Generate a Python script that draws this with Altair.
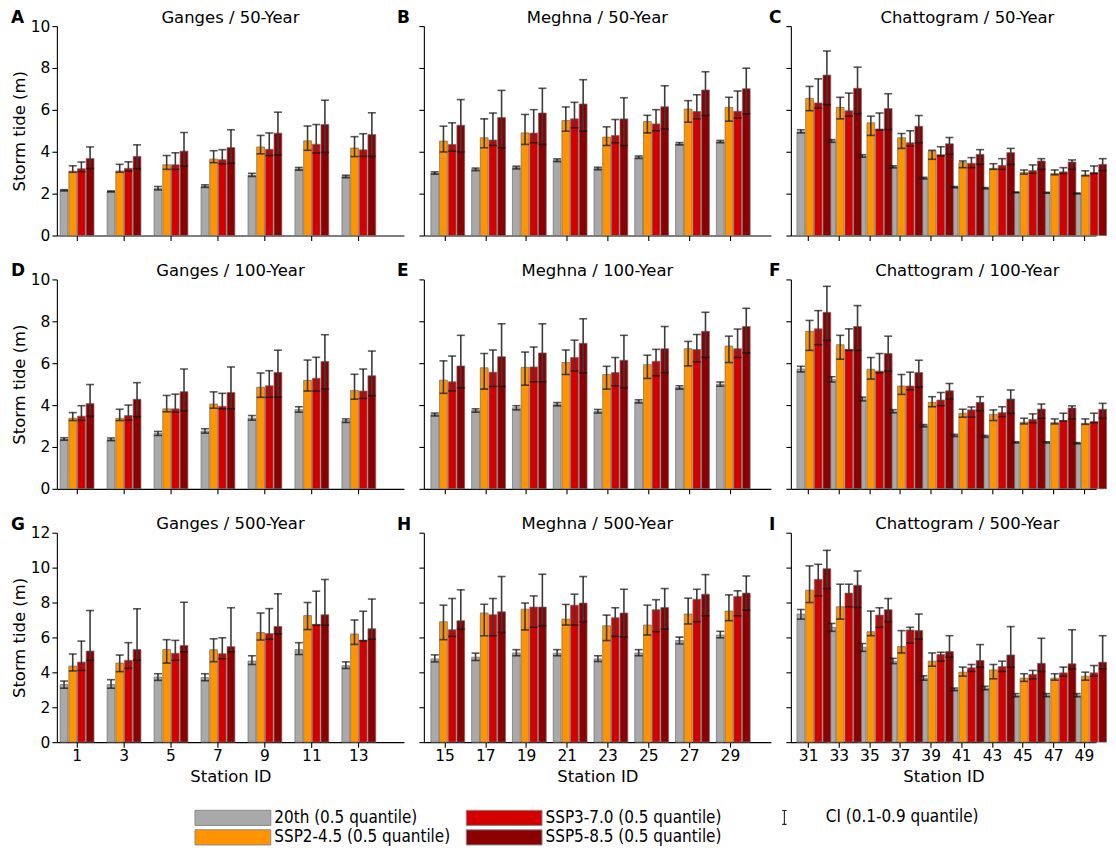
import altair as alt
import pandas as pd

SCENARIOS = ["20th (0.5 quantile)", "SSP2-4.5 (0.5 quantile)",
             "SSP3-7.0 (0.5 quantile)", "SSP5-8.5 (0.5 quantile)"]
COLORS = ["#a9a9a9", "#ff9300", "#d40000", "#8b0000"]
CI_LABEL = "CI (0.1-0.9 quantile)"

GANGES_ST = [1, 3, 5, 7, 9, 11, 13]
MEGHNA_ST = [15, 17, 19, 21, 23, 25, 27, 29]
CHATTO_ST = [31, 33, 35, 37, 39, 41, 43, 45, 47, 49]

# ---- Ganges / 50-Year  (rows: 20th, SSP2-4.5, SSP3-7.0, SSP5-8.5)
G50_MED = [[2.16, 2.10, 2.24, 2.35, 2.88, 3.18, 2.82],
           [3.07, 3.08, 3.38, 3.65, 4.23, 4.52, 4.18],
           [3.19, 3.21, 3.38, 3.62, 4.12, 4.36, 4.09],
           [3.68, 3.78, 4.03, 4.20, 4.89, 5.30, 4.82]]
G50_LO = [[2.13, 2.08, 2.18, 2.30, 2.82, 3.12, 2.76],
          [3.02, 3.02, 3.16, 3.48, 3.90, 4.07, 3.77],
          [3.05, 3.08, 3.16, 3.42, 3.82, 3.94, 3.78],
          [3.20, 3.19, 3.32, 3.45, 3.85, 3.97, 3.78]]
G50_HI = [[2.19, 2.13, 2.34, 2.42, 2.97, 3.25, 2.88],
          [3.33, 3.40, 3.82, 4.05, 4.78, 5.23, 4.72],
          [3.51, 3.52, 3.95, 4.10, 4.90, 5.30, 4.86],
          [4.23, 4.33, 4.92, 5.05, 5.89, 6.46, 5.86]]

# ---- Meghna / 50-Year
M50_MED = [[2.98, 3.16, 3.25, 3.60, 3.20, 3.74, 4.38, 4.48],
           [4.51, 4.67, 4.90, 5.49, 4.70, 5.44, 6.04, 6.12],
           [4.35, 4.56, 4.89, 5.57, 4.78, 5.33, 5.92, 5.93],
           [5.27, 5.63, 5.85, 6.28, 5.57, 6.15, 6.95, 7.01]]
M50_LO = [[2.93, 3.10, 3.18, 3.53, 3.14, 3.68, 4.33, 4.43],
          [3.99, 4.19, 4.35, 4.98, 4.30, 4.90, 5.41, 5.46],
          [4.03, 4.30, 4.43, 5.14, 4.43, 5.00, 5.57, 5.62],
          [3.99, 4.19, 4.35, 4.98, 4.30, 5.09, 5.73, 5.81]]
M50_HI = [[3.04, 3.22, 3.31, 3.66, 3.26, 3.80, 4.44, 4.54],
          [5.22, 5.57, 5.78, 6.14, 5.19, 5.74, 6.44, 6.60],
          [5.38, 5.85, 6.01, 6.36, 5.54, 6.01, 6.72, 6.90],
          [6.49, 6.93, 7.03, 7.44, 6.58, 7.15, 7.82, 7.99]]

# ---- Chattogram / 50-Year
C50_MED = [[4.95, 4.52, 3.80, 3.28, 2.74, 2.31, 2.26, 2.06, 2.04, 2.01],
           [6.55, 6.12, 5.38, 4.67, 4.02, 3.48, 3.21, 3.01, 2.96, 2.90],
           [6.33, 5.96, 5.09, 4.43, 3.86, 3.45, 3.35, 3.10, 3.04, 3.01],
           [7.66, 7.03, 6.06, 5.22, 4.38, 3.88, 3.96, 3.56, 3.51, 3.40]]
C50_LO = [[4.90, 4.45, 3.74, 3.23, 2.70, 2.28, 2.23, 2.04, 2.02, 1.99],
          [5.96, 5.57, 4.78, 4.16, 3.64, 3.24, 3.16, 2.93, 2.90, 2.85],
          [6.08, 5.70, 5.03, 4.27, 3.80, 3.24, 3.16, 2.97, 2.96, 2.96],
          [6.25, 5.82, 5.06, 4.43, 3.88, 3.40, 3.40, 3.16, 3.16, 3.10]]
C50_HI = [[5.05, 4.58, 3.86, 3.33, 2.78, 2.34, 2.29, 2.08, 2.06, 2.03],
          [7.12, 6.60, 5.70, 4.87, 4.07, 3.56, 3.43, 3.13, 3.13, 3.09],
          [7.48, 6.80, 5.85, 5.00, 4.24, 3.72, 3.67, 3.37, 3.24, 3.32],
          [8.81, 8.04, 6.77, 5.73, 4.68, 4.10, 4.16, 3.67, 3.61, 3.67]]

# ---- Ganges / 100-Year
G100_MED = [[2.37, 2.35, 2.65, 2.76, 3.38, 3.78, 3.26],
            [3.37, 3.37, 3.82, 4.05, 4.85, 5.18, 4.70],
            [3.47, 3.50, 3.82, 3.94, 4.92, 5.28, 4.67],
            [4.07, 4.28, 4.64, 4.60, 5.56, 6.08, 5.40]]
G100_LO = [[2.32, 2.30, 2.55, 2.66, 3.28, 3.66, 3.17],
           [3.26, 3.26, 3.68, 3.85, 4.37, 4.67, 4.28],
           [3.27, 3.28, 3.66, 3.82, 4.37, 4.67, 4.32],
           [3.47, 3.45, 3.73, 3.82, 4.38, 4.77, 4.45]]
G100_HI = [[2.44, 2.43, 2.74, 2.87, 3.50, 3.92, 3.34],
           [3.64, 3.80, 4.46, 4.63, 5.53, 6.15, 5.47],
           [3.97, 4.00, 4.52, 4.56, 5.64, 6.28, 5.72],
           [4.98, 5.07, 5.72, 5.82, 6.62, 7.36, 6.58]]

# ---- Meghna / 100-Year
M100_MED = [[3.55, 3.74, 3.87, 4.04, 3.70, 4.16, 4.84, 5.00],
            [5.19, 5.78, 5.80, 6.03, 5.46, 5.93, 6.69, 6.82],
            [5.11, 5.57, 5.82, 6.27, 5.55, 6.09, 6.65, 6.69],
            [5.87, 6.31, 6.49, 6.95, 6.14, 6.69, 7.52, 7.75]]
M100_LO = [[3.48, 3.66, 3.77, 3.96, 3.62, 4.10, 4.76, 4.90],
           [4.56, 4.76, 4.95, 5.46, 4.76, 5.27, 5.87, 6.03],
           [4.68, 4.89, 5.11, 5.63, 4.92, 5.40, 6.06, 6.27],
           [4.83, 4.89, 5.11, 5.54, 4.83, 5.55, 6.28, 6.49]]
M100_HI = [[3.62, 3.82, 3.97, 4.12, 3.79, 4.25, 4.92, 5.10],
           [6.11, 6.46, 6.53, 6.63, 5.85, 6.38, 7.04, 7.29],
           [6.34, 6.63, 6.77, 7.10, 6.27, 6.66, 7.37, 7.63],
           [7.33, 7.88, 7.88, 8.12, 7.33, 7.75, 8.43, 8.62]]

# ---- Chattogram / 100-Year
C100_MED = [[5.72, 5.22, 4.30, 3.70, 3.02, 2.55, 2.50, 2.22, 2.22, 2.18],
            [7.52, 6.88, 5.71, 4.91, 4.13, 3.61, 3.56, 3.18, 3.16, 3.13],
            [7.64, 6.66, 5.62, 4.91, 4.24, 3.77, 3.64, 3.32, 3.26, 3.21],
            [8.43, 7.75, 6.46, 5.55, 4.68, 4.13, 4.29, 3.81, 3.86, 3.80]]
C100_LO = [[5.58, 5.10, 4.20, 3.63, 2.96, 2.50, 2.46, 2.19, 2.19, 2.15],
           [6.61, 6.19, 5.24, 4.51, 3.92, 3.42, 3.26, 3.10, 3.10, 3.08],
           [6.88, 6.61, 5.55, 4.73, 3.97, 3.42, 3.45, 3.16, 3.24, 3.16],
           [7.09, 6.61, 5.62, 4.87, 4.29, 3.73, 3.61, 3.37, 3.34, 3.37]]
C100_HI = [[5.85, 5.35, 4.38, 3.78, 3.07, 2.60, 2.55, 2.25, 2.25, 2.21],
           [8.04, 7.33, 6.27, 5.46, 4.40, 3.80, 3.77, 3.37, 3.34, 3.34],
           [8.51, 7.64, 6.46, 5.57, 4.60, 3.91, 3.92, 3.58, 3.61, 3.61],
           [9.67, 8.75, 7.29, 6.14, 5.03, 4.40, 4.72, 4.05, 3.96, 4.08]]

# ---- Ganges / 500-Year
G500_MED = [[3.30, 3.30, 3.73, 3.70, 4.65, 5.30, 4.38],
            [4.36, 4.53, 5.31, 5.30, 6.28, 7.25, 6.20],
            [4.59, 4.69, 5.09, 5.07, 6.22, 6.75, 5.85],
            [5.22, 5.31, 5.54, 5.47, 6.63, 7.30, 6.50]]
G500_LO = [[3.09, 3.09, 3.54, 3.52, 4.45, 5.02, 4.22],
           [4.08, 4.04, 4.53, 4.61, 5.85, 6.45, 5.60],
           [4.11, 4.23, 4.69, 4.78, 5.90, 6.70, 5.80],
           [4.69, 4.69, 5.18, 5.18, 6.20, 6.70, 5.90]]
G500_HI = [[3.50, 3.58, 3.92, 3.92, 4.95, 5.70, 4.60],
           [5.05, 4.99, 5.87, 5.92, 7.40, 8.00, 7.00],
           [5.79, 5.70, 5.83, 5.98, 7.65, 8.65, 7.50],
           [7.54, 7.64, 8.02, 7.70, 8.50, 9.32, 8.20]]

# ---- Meghna / 500-Year
M500_MED = [[4.77, 4.87, 5.11, 5.10, 4.77, 5.11, 5.82, 6.14],
            [6.90, 7.40, 7.62, 7.05, 6.67, 6.71, 7.34, 7.51],
            [6.44, 7.30, 7.74, 7.85, 7.13, 7.59, 8.19, 8.35],
            [6.96, 7.47, 7.74, 7.97, 7.40, 7.72, 8.48, 8.54]]
M500_LO = [[4.60, 4.68, 4.95, 4.95, 4.62, 4.95, 5.62, 5.98],
           [5.87, 6.10, 6.43, 6.71, 5.82, 6.14, 6.77, 6.96],
           [6.06, 6.10, 6.58, 6.71, 6.06, 6.33, 6.90, 7.24],
           [6.48, 6.29, 6.67, 6.90, 6.03, 6.48, 7.24, 7.57]]
M500_HI = [[5.00, 5.10, 5.30, 5.30, 4.95, 5.30, 6.02, 6.35],
           [7.85, 7.90, 7.97, 7.89, 7.28, 7.85, 8.25, 8.44],
           [8.23, 8.23, 8.38, 8.48, 7.70, 8.16, 8.76, 8.67],
           [8.73, 9.49, 9.62, 9.49, 8.76, 8.80, 9.60, 9.52]]

# ---- Chattogram / 500-Year
C500_MED = [[7.34, 6.58, 5.44, 4.64, 3.67, 3.02, 3.10, 2.68, 2.68, 2.68],
            [8.71, 7.76, 6.33, 5.48, 4.64, 4.01, 4.14, 3.67, 3.67, 3.78],
            [9.33, 8.54, 7.28, 6.43, 5.02, 4.26, 4.33, 3.88, 3.97, 3.97],
            [9.94, 8.99, 7.59, 6.39, 5.19, 4.68, 5.00, 4.52, 4.49, 4.58]]
C500_LO = [[7.05, 6.35, 5.20, 4.50, 3.55, 2.95, 3.00, 2.60, 2.60, 2.60],
           [8.00, 7.05, 6.10, 5.11, 4.35, 3.78, 3.63, 3.48, 3.55, 3.55],
           [8.38, 7.76, 6.58, 5.68, 4.64, 4.05, 4.05, 3.63, 3.78, 3.78],
           [8.80, 7.72, 6.90, 5.91, 4.87, 4.30, 4.30, 4.05, 4.20, 4.20]]
C500_HI = [[7.60, 6.80, 5.65, 4.80, 3.80, 3.10, 3.20, 2.78, 2.78, 2.78],
           [10.10, 9.05, 7.51, 6.39, 5.11, 4.30, 4.45, 3.92, 3.92, 4.01],
           [10.19, 9.05, 7.70, 6.58, 5.15, 4.45, 4.64, 4.11, 4.30, 4.39],
           [10.99, 9.81, 8.23, 7.34, 6.10, 5.59, 6.62, 5.95, 6.44, 6.10]]

FONT = "DejaVu Sans"
LEGEND_FONT = "DejaVu Sans Condensed, Liberation Sans Narrow, DejaVu Sans"
PLOT_H = 210


def frame(stations, med, lo, hi):
    rows = []
    for si, sc in enumerate(SCENARIOS):
        for k, st in enumerate(stations):
            rows.append({"station": str(st), "scenario": sc,
                         "med": med[si][k], "lo": lo[si][k], "hi": hi[si][k],
                         "ci": CI_LABEL})
    return pd.DataFrame(rows)


def panel(df, stations, title, title_x, letter, letter_dx, ymax, first_col, last_row,
          width, pad_outer, pad_inner, align):
    x = alt.X("station:N", sort=[str(s) for s in stations],
              scale=alt.Scale(paddingInner=pad_inner, paddingOuter=pad_outer, align=align),
              axis=alt.Axis(title="Station ID" if last_row else None,
                            labels=last_row, labelAngle=0, labelPadding=1,
                            titlePadding=5))
    xo = alt.XOffset("scenario:N", sort=SCENARIOS,
                     scale=alt.Scale(paddingInner=0.1, paddingOuter=0))
    yscale = alt.Scale(domain=[0, ymax], nice=False, zero=True)
    yaxis = alt.Axis(values=list(range(0, ymax + 1, 2)), labels=first_col,
                     title="Storm tide (m)" if first_col else None,
                     labelPadding=2, titlePadding=3)

    base = alt.Chart(df)
    bars = base.mark_bar(stroke="#6e6e6e", strokeWidth=0.9, strokeOpacity=0.8).encode(
        x=x, xOffset=xo,
        y=alt.Y("med:Q", scale=yscale, axis=yaxis),
        color=alt.Color("scenario:N",
                        scale=alt.Scale(domain=SCENARIOS, range=COLORS),
                        legend=alt.Legend(
                            title=None, orient="none", legendX=168, legendY=785,
                            columns=2, columnPadding=13, rowPadding=-1,
                            symbolType="M-4.75,-0.95L4.75,-0.95L4.75,0.95L-4.75,0.95Z",
                            symbolSize=256, symbolStrokeColor="#8a8a8a",
                            symbolStrokeWidth=1, labelFont=LEGEND_FONT,
                            labelFontSize=17, labelColor="black",
                            labelOffset=33, labelLimit=400)),
    )
    rules = base.mark_rule(color="#3c3c3c", strokeWidth=1.6).encode(
        x=x, xOffset=xo,
        y=alt.Y("lo:Q", scale=yscale, axis=yaxis), y2="hi:Q",
        strokeDash=alt.StrokeDash("ci:N",
                                  scale=alt.Scale(domain=[CI_LABEL], range=[[1, 0]]),
                                  legend=alt.Legend(
                                      title=None, orient="none", legendX=721, legendY=785,
                                      symbolType="M-0.32,-1L0.32,-1M0,-1L0,1M-0.32,1L0.32,1",
                                      symbolSize=196, symbolStrokeColor="#222",
                                      symbolFillColor="transparent",
                                      symbolStrokeWidth=1.1, labelFont=LEGEND_FONT,
                                      labelFontSize=17, labelColor="black",
                                      labelOffset=33)),
    )
    cap_hi = base.mark_tick(color="#111", thickness=1.6, size=8).encode(
        x=x, xOffset=xo, y=alt.Y("hi:Q", scale=yscale, axis=yaxis))
    cap_lo = base.mark_tick(color="#111", thickness=1.6, size=8).encode(
        x=x, xOffset=xo, y=alt.Y("lo:Q", scale=yscale, axis=yaxis))
    labels = alt.Chart(pd.DataFrame({"letter": [letter], "title": [title]}))
    tag = labels.mark_text(
        fontWeight="bold", fontSize=17, align="left", baseline="alphabetic",
        font=FONT, color="black").encode(
        x=alt.value(letter_dx), y=alt.value(-3), text="letter:N")
    head = labels.mark_text(
        fontSize=16.5, align="center", baseline="alphabetic",
        font=FONT, color="black").encode(
        x=alt.value(title_x), y=alt.value(-3.5), text="title:N")

    return alt.layer(bars, rules, cap_hi, cap_lo, tag, head).properties(
        width=width, height=PLOT_H)


# name, stations, width, paddingOuter, paddingInner, align, letter dx, title x
COLS = [
    ("Ganges", GANGES_ST, 348, 0.335, 0.28, 0.105, -46, 174),
    ("Meghna", MEGHNA_ST, 348, 0.41, 0.31, 0.21, -27, 174),
    ("Chattogram", CHATTO_ST, 306, 0.10, 0.24, 1.0, -22, 177),
]
ROWS = [
    ("50-Year", 10, [(G50_MED, G50_LO, G50_HI), (M50_MED, M50_LO, M50_HI), (C50_MED, C50_LO, C50_HI)]),
    ("100-Year", 10, [(G100_MED, G100_LO, G100_HI), (M100_MED, M100_LO, M100_HI), (C100_MED, C100_LO, C100_HI)]),
    ("500-Year", 12, [(G500_MED, G500_LO, G500_HI), (M500_MED, M500_LO, M500_HI), (C500_MED, C500_LO, C500_HI)]),
]
LETTERS = ["A", "B", "C", "D", "E", "F", "G", "H", "I"]

panels = []
for ri, (rp, ymax, sets) in enumerate(ROWS):
    for ci, (region, stations, w, po, pi, al, ldx, tx) in enumerate(COLS):
        med, lo, hi = sets[ci]
        df = frame(stations, med, lo, hi)
        panels.append(panel(df, stations, f"{region} / {rp}", tx, LETTERS[ri * 3 + ci], ldx,
                            ymax, ci == 0, ri == 2, w, po, pi, al))

chart = alt.concat(*panels, columns=3, spacing={"row": 44, "column": 20},
                   bounds="flush", align="each").properties(
    padding={"left": 3, "top": 0, "right": 0, "bottom": 0}
).configure(font=FONT).configure_view(stroke=None).configure_axis(
    grid=False, domainColor="black", domainWidth=1.1, tickColor="black", tickWidth=1.1,
    tickSize=5, labelFont=FONT, labelFontSize=15.5, labelColor="black",
    titleFont=FONT, titleFontSize=16.5, titleFontWeight="normal", titleColor="black",
).configure_legend(padding=0)

chart.save("out.html", embed_options={"renderer": "svg", "actions": False})
